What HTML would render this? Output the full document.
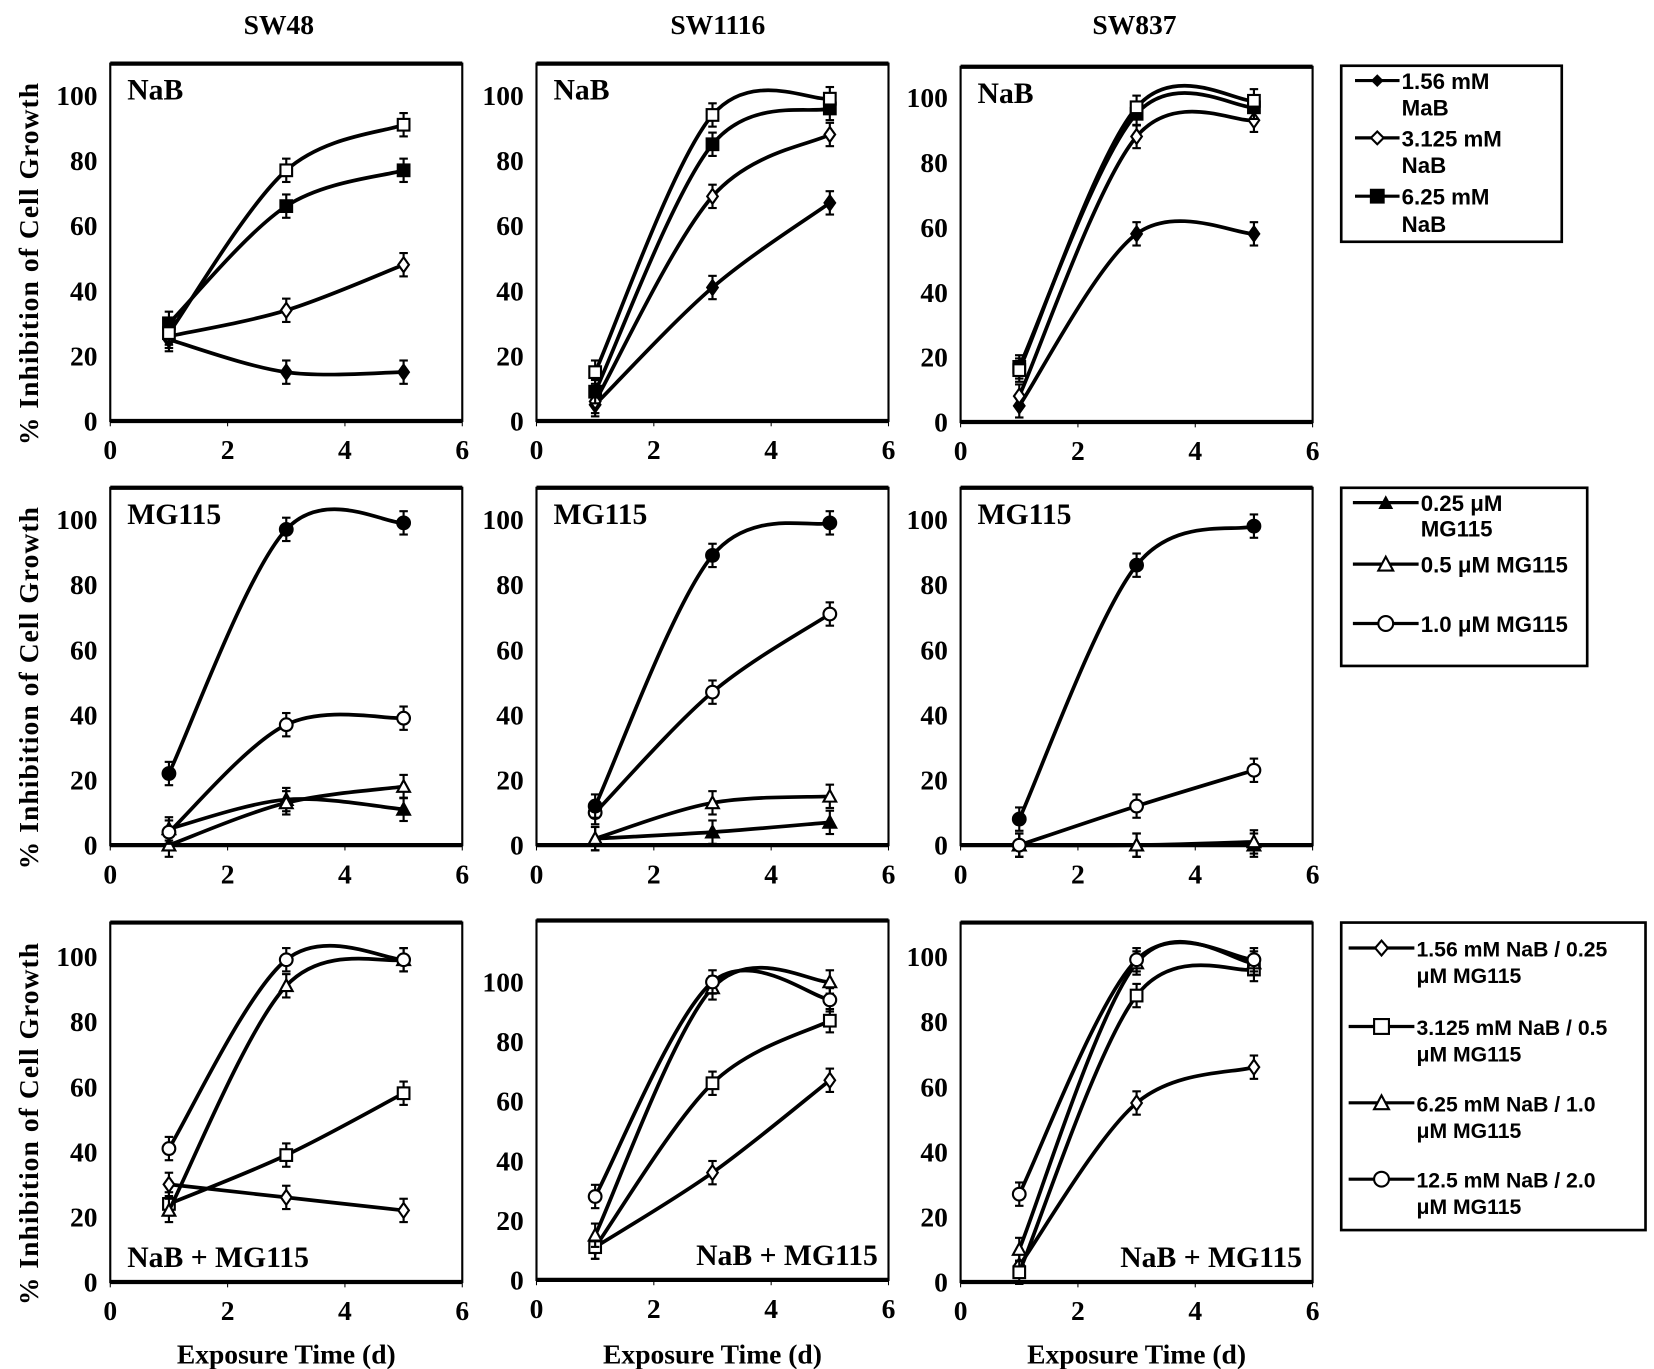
<!DOCTYPE html>
<html><head><meta charset="utf-8"><style>
html,body{margin:0;padding:0;background:#fff;}
svg{display:block;}
.t{font-family:"Liberation Serif",serif;font-weight:bold;fill:#000;}
.l{font-family:"Liberation Sans",sans-serif;font-weight:bold;fill:#000;}
</style></head><body>
<svg id="fig" width="1654" height="1369" viewBox="0 0 1560 1291" preserveAspectRatio="none" xmlns="http://www.w3.org/2000/svg">
<text class="t" x="263" y="32" font-size="26" text-anchor="middle">SW48</text>
<text class="t" x="677" y="32" font-size="26" text-anchor="middle">SW1116</text>
<text class="t" x="1070" y="32" font-size="26" text-anchor="middle">SW837</text>
<g id="plots"></g>
<g>
<rect x="1265" y="62" width="208" height="166" fill="none" stroke="#000" stroke-width="2.5"/>
<line x1="1278" y1="76" x2="1320" y2="76" stroke="#000" stroke-width="3"/><path d="M1299 70 L1305 76 L1299 82 L1293 76Z" fill="#000"/>
<text class="l" x="1322" y="84" font-size="21">1.56 mM</text><text class="l" x="1322" y="109" font-size="21">MaB</text>
<line x1="1278" y1="130" x2="1320" y2="130" stroke="#000" stroke-width="3"/><path d="M1299 124 L1305 130 L1299 136 L1293 130Z" fill="#fff" stroke="#000" stroke-width="2"/>
<text class="l" x="1322" y="138" font-size="21">3.125 mM</text><text class="l" x="1322" y="163" font-size="21">NaB</text>
<line x1="1278" y1="185" x2="1320" y2="185" stroke="#000" stroke-width="3"/><rect x="1292" y="178" width="14" height="14" fill="#000"/>
<text class="l" x="1322" y="193" font-size="21">6.25 mM</text><text class="l" x="1322" y="219" font-size="21">NaB</text>
</g>
<g>
<rect x="1265" y="460" width="232" height="168" fill="none" stroke="#000" stroke-width="2.5"/>
<line x1="1276" y1="474" x2="1338" y2="474" stroke="#000" stroke-width="3"/><path d="M1307 467 L1314 480 L1300 480Z" fill="#000"/>
<text class="l" x="1340" y="482" font-size="21">0.25 μM</text><text class="l" x="1340" y="506" font-size="21">MG115</text>
<line x1="1276" y1="532" x2="1338" y2="532" stroke="#000" stroke-width="3"/><path d="M1307 525 L1314 538 L1300 538Z" fill="#fff" stroke="#000" stroke-width="2"/>
<text class="l" x="1340" y="540" font-size="21">0.5 μM MG115</text>
<line x1="1276" y1="588" x2="1338" y2="588" stroke="#000" stroke-width="3"/><circle cx="1307" cy="588" r="7" fill="#fff" stroke="#000" stroke-width="2"/>
<text class="l" x="1340" y="596" font-size="21">1.0 μM MG115</text>
</g>
<g>
<rect x="1265" y="870" width="287" height="290" fill="none" stroke="#000" stroke-width="2.5"/>
<line x1="1272" y1="894" x2="1334" y2="894" stroke="#000" stroke-width="3"/><path d="M1303 887 L1309 894 L1303 901 L1297 894Z" fill="#fff" stroke="#000" stroke-width="2"/>
<text class="l" x="1336" y="902" font-size="20">1.56 mM NaB  / 0.25</text><text class="l" x="1336" y="927" font-size="20">μM MG115</text>
<line x1="1272" y1="968" x2="1334" y2="968" stroke="#000" stroke-width="3"/><rect x="1296" y="961" width="14" height="14" fill="#fff" stroke="#000" stroke-width="2"/>
<text class="l" x="1336" y="976" font-size="20">3.125 mM NaB / 0.5</text><text class="l" x="1336" y="1001" font-size="20">μM MG115</text>
<line x1="1272" y1="1040" x2="1334" y2="1040" stroke="#000" stroke-width="3"/><path d="M1303 1033 L1310 1046 L1296 1046Z" fill="#fff" stroke="#000" stroke-width="2"/>
<text class="l" x="1336" y="1048" font-size="20">6.25 mM NaB  / 1.0</text><text class="l" x="1336" y="1073" font-size="20">μM MG115</text>
<line x1="1272" y1="1112" x2="1334" y2="1112" stroke="#000" stroke-width="3"/><circle cx="1303" cy="1112" r="7" fill="#fff" stroke="#000" stroke-width="2"/>
<text class="l" x="1336" y="1120" font-size="20">12.5 mM NaB  / 2.0</text><text class="l" x="1336" y="1145" font-size="20">μM MG115</text>
</g>
</svg>
<script>
const xDays = [1, 3, 5];
const xTicks = [0, 2, 4, 6];
const yTicks = [0, 20, 40, 60, 80, 100];
// row 1: NaB
const r1c1 = [[25,15,15],[26,34,48],[30,66,77],[27,77,91]];
const r1c2 = [[5,41,67],[6,69,88],[9,85,96],[15,94,99]];
const r1c3 = [[5,58,58],[8,88,93],[17,95,97],[16,97,99]];
const r1Markers = ['fd','od','fs','os'];
// row 2: MG115
const r2c1 = [[5,14,11],[0,13,18],[4,37,39],[22,97,99]];
const r2c2 = [[2,4,7],[2,13,15],[10,47,71],[12,89,99]];
const r2c3 = [[0,0,0],[0,0,1],[0,12,23],[8,86,98]];
const r2Markers = ['ft','ot','oc','fc'];
// row 3: NaB + MG115
const r3c1 = [[30,26,22],[24,39,58],[22,91,99],[41,99,99]];
const r3c2 = [[11,36,67],[11,66,87],[15,98,100],[28,100,94]];
const r3c3 = [[5,55,66],[3,88,96],[10,98,98],[27,99,99]];
const r3Markers = ['od','os','ot','oc'];

const NS='http://www.w3.org/2000/svg';
const root=document.getElementById('plots');
function el(tag,attrs,parent){const e=document.createElementNS(NS,tag);for(const k in attrs)e.setAttribute(k,attrs[k]);(parent||root).appendChild(e);return e;}

const colX=[104,506,906];
const panels=[
 {row:0,col:0,data:r1c1,mk:r1Markers,top:60,y0:397,y100:90,lab:'NaB',labPos:'tl'},
 {row:0,col:1,data:r1c2,mk:r1Markers,top:60,y0:397,y100:90,lab:'NaB',labPos:'tl'},
 {row:0,col:2,data:r1c3,mk:r1Markers,top:63,y0:398,y100:92,lab:'NaB',labPos:'tl'},
 {row:1,col:0,data:r2c1,mk:r2Markers,top:460,y0:797,y100:490,lab:'MG115',labPos:'tl'},
 {row:1,col:1,data:r2c2,mk:r2Markers,top:460,y0:797,y100:490,lab:'MG115',labPos:'tl'},
 {row:1,col:2,data:r2c3,mk:r2Markers,top:460,y0:797,y100:490,lab:'MG115',labPos:'tl'},
 {row:2,col:0,data:r3c1,mk:r3Markers,top:870,y0:1209,y100:902,lab:'NaB + MG115',labPos:'bl'},
 {row:2,col:1,data:r3c2,mk:r3Markers,top:868,y0:1207,y100:926,lab:'NaB + MG115',labPos:'br'},
 {row:2,col:2,data:r3c3,mk:r3Markers,top:870,y0:1209,y100:902,lab:'NaB + MG115',labPos:'br'}
];
const W=332;

function marker(g,type,x,y){
 const fill=type[0]==='f'?'#000':'#fff';const s=type[1];let m;
 if(s==='d') m=el('path',{d:`M${x} ${y-7}L${x+5} ${y}L${x} ${y+7}L${x-5} ${y}Z`,fill,stroke:'#000','stroke-width':2},g);
 else if(s==='s') m=el('rect',{x:x-5.5,y:y-5.5,width:11,height:11,fill,stroke:'#000','stroke-width':2},g);
 else if(s==='t') m=el('path',{d:`M${x} ${y-6}L${x+6} ${y+5}L${x-6} ${y+5}Z`,fill,stroke:'#000','stroke-width':2},g);
 else m=el('circle',{cx:x,cy:y,r:6,fill,stroke:'#000','stroke-width':2},g);
 
 
}

panels.forEach((p,pi)=>{
 const x0=colX[p.col];
 const sx=v=>x0+v/6*W;
 const sy=v=>p.y0-(v/100)*(p.y0-p.y100);
 const g=el('g',{});
 
 
 const box=el('rect',{x:x0,y:p.top,width:W,height:p.y0-p.top,fill:'none',stroke:'#000','stroke-width':2},g);
 
 
 el('line',{x1:x0,y1:p.top,x2:x0+W,y2:p.top,stroke:'#000','stroke-width':4},g);
 el('line',{x1:x0,y1:p.y0,x2:x0+W,y2:p.y0,stroke:'#000','stroke-width':4},g);
 yTicks.forEach(t=>{
  const tl=el('text',{class:'t',x:x0-12,y:sy(t)+9,'font-size':26,'text-anchor':'end'},g);tl.textContent=t;
  
  
 });
 xTicks.forEach(t=>{
  el('line',{x1:sx(t),y1:p.y0,x2:sx(t),y2:p.y0+5,stroke:'#000','stroke-width':1},g);
  const tl=el('text',{class:'t',x:sx(t),y:p.y0+36,'font-size':26,'text-anchor':'middle'},g);tl.textContent=t;
  
  
 });
 let lx,ly,anchor='start';
 if(p.labPos==='tl'){lx=x0+16;ly=p.top+34;}
 else if(p.labPos==='bl'){lx=x0+16;ly=p.y0-14;}
 else {lx=x0+W-10;ly=p.y0-14;anchor='end';}
 const lab=el('text',{class:'t',x:lx,y:ly,'font-size':28,'text-anchor':anchor},g);lab.textContent=p.lab;
 
 
 p.data.forEach((ser,si)=>{
  const pts=ser.map((v,i)=>[sx(xDays[i]),sy(v)]);
  let d=`M${pts[0][0]} ${pts[0][1]}`;
  for(let i=0;i<pts.length-1;i++){
   const p0=pts[Math.max(0,i-1)],p1=pts[i],p2=pts[i+1],p3=pts[Math.min(pts.length-1,i+2)];
   const c1=[p1[0]+(p2[0]-p0[0])/6,p1[1]+(p2[1]-p0[1])/6];
   const c2=[p2[0]-(p3[0]-p1[0])/6,p2[1]-(p3[1]-p1[1])/6];
   d+=`C${c1[0]} ${c1[1]} ${c2[0]} ${c2[1]} ${p2[0]} ${p2[1]}`;
  }
  const line=el('path',{d,fill:'none',stroke:'#000','stroke-width':3.5},g);
  
  
  pts.forEach(pt=>{
   el('line',{x1:pt[0],y1:pt[1]-11,x2:pt[0],y2:pt[1]+11,stroke:'#000','stroke-width':2},g);
   el('line',{x1:pt[0]-4,y1:pt[1]-11,x2:pt[0]+4,y2:pt[1]-11,stroke:'#000','stroke-width':2},g);
   el('line',{x1:pt[0]-4,y1:pt[1]+11,x2:pt[0]+4,y2:pt[1]+11,stroke:'#000','stroke-width':2},g);
   marker(g,p.mk[si],pt[0],pt[1]);
  });
 });
 if(p.col===0){
  const cy=(p.top+p.y0)/2+20;
  const yt=el('text',{class:'t',x:0,y:0,'font-size':26,'text-anchor':'middle',transform:`translate(36 ${cy}) rotate(-90)`,'letter-spacing':'1'},g);
  yt.textContent='% Inhibition of Cell Growth';
  
  
 }
 if(p.row===2){
  const xt=el('text',{class:'t',x:x0+W/2,y:1286,'font-size':26,'text-anchor':'middle'},g);
  xt.textContent='Exposure Time (d)';
  
  
 }
});
</script>
</body></html>
